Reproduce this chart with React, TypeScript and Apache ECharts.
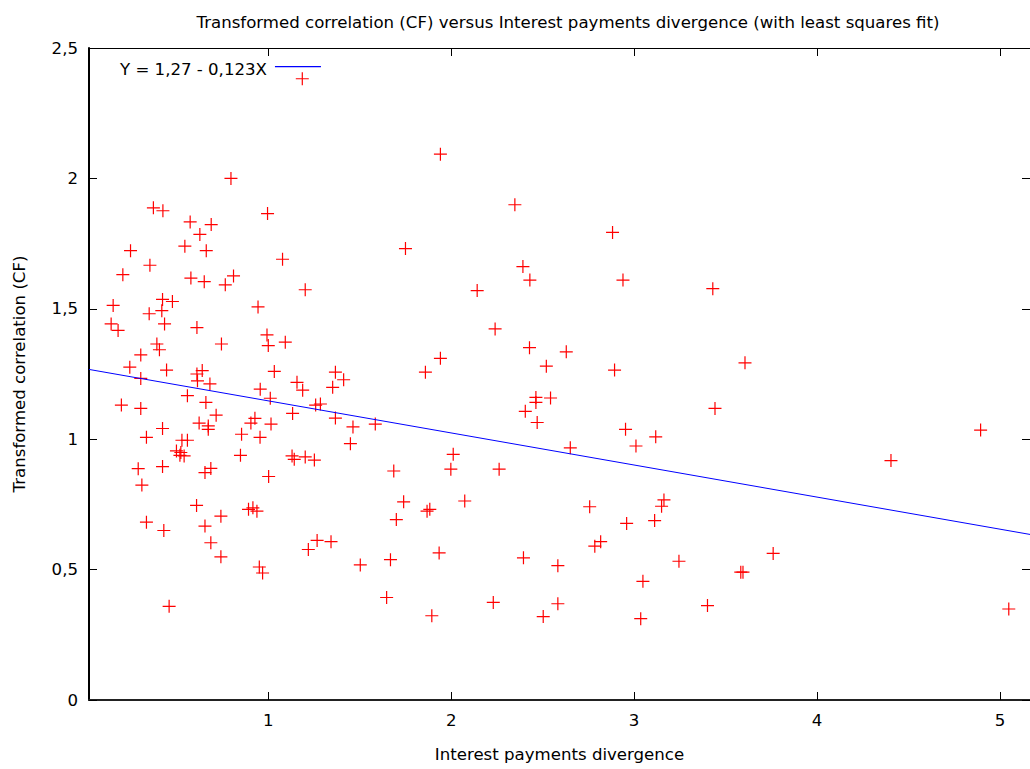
import React, { useEffect, useRef } from "react";
import * as echarts from "echarts";

const titleText =
  "Transformed correlation (CF) versus Interest payments divergence (with least squares fit)";
const xName = "Interest payments divergence";
const yName = "Transformed correlation (CF)";
const fitLabel = "Y = 1,27 - 0,123X";

const xDivergence = [
  1.186, 1.941, 0.796, 2.348, 0.372, 0.424, 0.996, 0.573, 0.688, 0.626,
  0.247, 0.544, 0.661, 0.353, 0.205, 0.577, 0.65, 0.81, 0.765, 0.152,
  0.422, 0.476, 0.349, 0.418, 0.944, 0.433, 0.141, 0.179, 0.61, 0.993,
  0.391, 0.405, 0.744, 1.0, 0.303, 0.243, 0.444, 0.303, 0.639, 0.61,
  0.613, 1.033, 0.681, 0.956, 0.558, 1.011, 0.659, 0.197, 0.303, 0.715,
  0.622, 0.672, 0.672, 0.927, 0.905, 1.015, 0.422, 0.334, 0.528, 0.558,
  0.854, 0.955, 0.498, 0.522, 0.54, 0.517, 0.848, 0.289, 0.422, 0.654,
  0.686, 0.309, 1.002, 0.608, 0.741, 0.892, 0.916, 0.938, 0.334, 0.429,
  0.654, 0.686, 0.741, 0.951, 0.969, 0.458, 1.078, 1.75, 1.202, 1.093,
  1.941, 1.859, 1.367, 1.412, 1.157, 1.188, 1.352, 1.259, 1.285, 1.133,
  1.367, 1.463, 1.585, 1.449, 1.13, 1.142, 1.202, 1.252, 2.011, 1.998,
  1.686, 1.74, 1.868, 1.883, 1.7, 1.267, 1.219, 1.343, 1.934, 1.668,
  1.503, 1.647, 1.894, 2.882, 2.392, 2.43, 2.939, 2.142, 2.24, 2.428,
  2.629, 2.52, 2.893, 2.463, 2.463, 2.543, 2.405, 2.47, 2.953, 3.118,
  3.01, 2.651, 2.262, 2.074, 2.757, 3.163, 3.15, 3.112, 2.959, 2.817,
  2.785, 3.245, 2.395, 2.583, 3.048, 2.23, 2.583, 2.503, 3.036, 3.43,
  3.606, 3.442, 4.894, 4.404, 3.76, 3.583, 3.595, 3.401, 5.048,
];

const yCorrelation = [
  2.382, 2.093, 2.0, 1.899, 1.887, 1.876, 1.865, 1.833, 1.823, 1.785,
  1.723, 1.74, 1.723, 1.667, 1.631, 1.618, 1.604, 1.626, 1.592, 1.513,
  1.536, 1.528, 1.481, 1.493, 1.507, 1.442, 1.442, 1.417, 1.428, 1.4,
  1.365, 1.343, 1.365, 1.359, 1.323, 1.276, 1.265, 1.233, 1.263, 1.25,
  1.224, 1.26, 1.212, 1.192, 1.167, 1.157, 1.141, 1.131, 1.118, 1.092,
  1.062, 1.051, 1.038, 1.08, 1.062, 1.058, 1.041, 1.007, 0.996, 0.996,
  1.019, 1.007, 0.955, 0.949, 0.936, 0.938, 0.938, 0.887, 0.895, 0.872,
  0.888, 0.824, 0.857, 0.746, 0.705, 0.731, 0.737, 0.724, 0.682, 0.65,
  0.667, 0.603, 0.549, 0.51, 0.487, 0.359, 1.69, 1.731, 1.573, 1.372,
  1.31, 1.257, 1.257, 1.228, 1.218, 1.188, 1.199, 1.131, 1.135, 1.099,
  1.081, 1.047, 1.058, 0.983, 0.936, 0.923, 0.932, 0.92, 0.942, 0.885,
  0.878, 0.76, 0.724, 0.731, 0.692, 0.612, 0.577, 0.607, 0.564, 0.538,
  0.518, 0.393, 0.323, 1.793, 1.662, 1.61, 1.61, 1.57, 1.423, 1.351,
  1.335, 1.28, 1.265, 1.16, 1.141, 1.158, 1.107, 1.064, 1.038, 1.009,
  0.974, 0.967, 0.885, 0.763, 0.741, 0.767, 0.743, 0.688, 0.677, 0.607,
  0.59, 0.532, 0.545, 0.515, 0.455, 0.374, 0.369, 0.32, 0.312, 1.577,
  1.293, 1.118, 1.035, 0.918, 0.562, 0.49, 0.49, 0.362, 0.349,
];

const xTicks = [1, 2, 3, 4, 5];
const yTicks = [0, 0.5, 1, 1.5, 2, 2.5];
const xRange = [0.02, 5.164];
const yRange = [0, 2.5];
const fitIntercept = 1.27;
const fitSlope = -0.123;

const fmt = (v: number) => String(v).replace(".", ",");
const FONT = "DejaVu Sans";

export default function App() {
  const ref = useRef<HTMLDivElement>(null);
  useEffect(() => {
    if (!ref.current) return;
    const chart = echarts.init(ref.current, null, { renderer: "svg" });
    const points = xDivergence.map((x, i) => [x, yCorrelation[i]]);
    const fit = xRange.map((x) => [x, fitIntercept + fitSlope * x]);
    const textBase = { fontFamily: FONT, fontSize: 16.6, color: "#000" };
    const tickStyle = { color: "#000", width: 1 };
    chart.setOption({
      animation: false,
      backgroundColor: "#fff",
      textStyle: { fontFamily: FONT },
      title: {
        text: titleText,
        left: 563,
        top: 9,
        textAlign: "center",
        textStyle: { ...textBase, fontWeight: "normal" },
      },
      legend: {
        data: [{ name: fitLabel, icon: "path://M0,0H46V1.2H0ZM0,7L0.01,7" }],
        left: 115,
        top: 56,
        align: "right",
        itemWidth: 46,
        itemHeight: 7,
        textStyle: { ...textBase, padding: [0, 3, 0, 0] },
        selectedMode: false,
      },
      grid: { left: 89, top: 48, width: 942, height: 652 },
      xAxis: [
        {
          type: "value",
          position: "bottom",
          min: xRange[0],
          max: xRange[1],
          name: xName,
          nameLocation: "middle",
          nameGap: 46,
          nameTextStyle: { ...textBase },
          axisLine: { onZero: false, lineStyle: { color: "#222", width: 2 } },
          axisTick: { inside: true, length: 8, customValues: xTicks, lineStyle: tickStyle },
          axisLabel: { customValues: xTicks, margin: 12, ...textBase, formatter: fmt },
          splitLine: { show: false },
        },
        {
          type: "value",
          position: "top",
          min: xRange[0],
          max: xRange[1],
          axisLine: { onZero: false, lineStyle: { color: "#000", width: 1 } },
          axisTick: { inside: true, length: 8, customValues: xTicks, lineStyle: tickStyle },
          axisLabel: { show: false },
          splitLine: { show: false },
        },
      ],
      yAxis: [
        {
          type: "value",
          position: "left",
          min: yRange[0],
          max: yRange[1],
          name: yName,
          nameLocation: "middle",
          nameGap: 61,
          nameTextStyle: { ...textBase },
          axisLine: { onZero: false, lineStyle: { color: "#000", width: 2 } },
          axisTick: { inside: true, length: 8, customValues: yTicks, lineStyle: tickStyle },
          axisLabel: { customValues: yTicks, margin: 11, ...textBase, formatter: fmt },
          splitLine: { show: false },
        },
        {
          type: "value",
          position: "right",
          min: yRange[0],
          max: yRange[1],
          axisLine: { onZero: false, lineStyle: { color: "#000", width: 1 } },
          axisTick: { inside: true, length: 8, customValues: yTicks, lineStyle: tickStyle },
          axisLabel: { show: false },
          splitLine: { show: false },
        },
      ],
      series: [
        {
          type: "scatter",
          name: "data",
          data: points,
          symbol: "path://M0,7H14M7,0V14",
          symbolSize: 13,
          itemStyle: { color: "none", borderColor: "#ff0000", borderWidth: 1.2, opacity: 1 },
          silent: true,
          emphasis: { disabled: true },
        },
        {
          type: "line",
          name: fitLabel,
          data: fit,
          symbol: "none",
          lineStyle: { color: "#0000ff", width: 1 },
          itemStyle: { color: "#0000ff" },
          silent: true,
          emphasis: { disabled: true },
        },
      ],
    });
    return () => chart.dispose();
  }, []);
  return (
    <div
      ref={ref}
      style={{ position: "fixed", left: 0, top: 0, width: 1030, height: 769, background: "#fff" }}
    />
  );
}
